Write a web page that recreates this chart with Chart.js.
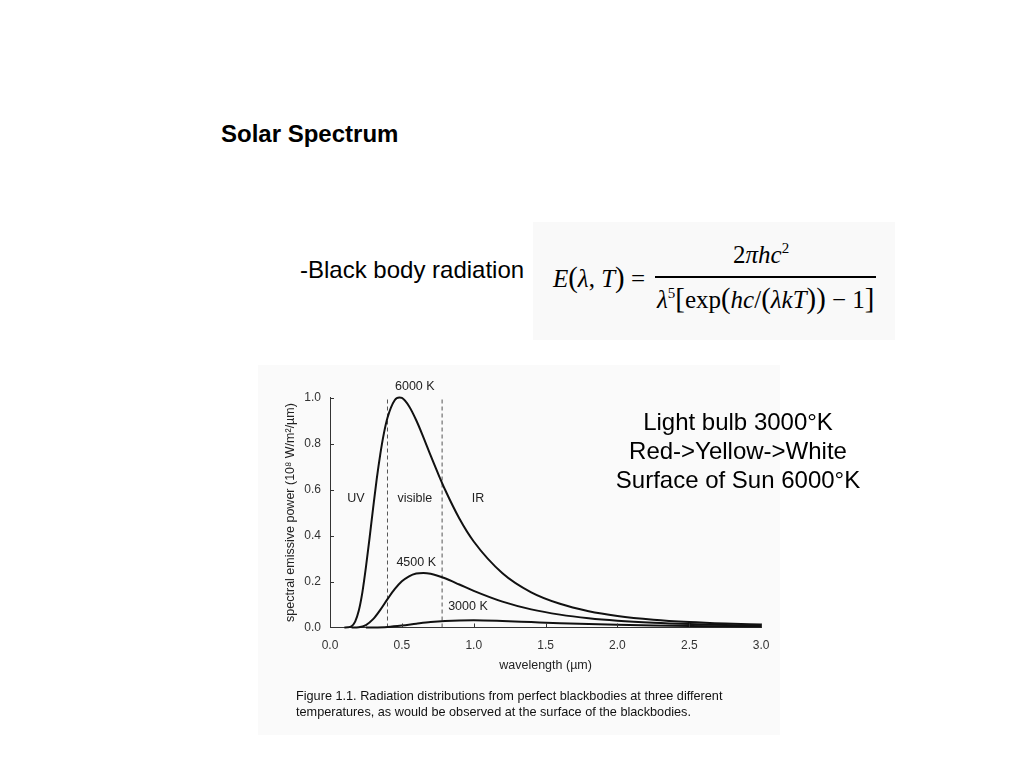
<!DOCTYPE html>
<html><head><meta charset="utf-8">
<script src="https://cdn.jsdelivr.net/npm/chart.js@4.4.1/dist/chart.umd.min.js"></script>
<style>
html,body{margin:0;padding:0;background:#fff;width:1024px;height:768px;overflow:hidden;font-family:"Liberation Sans",Arial,sans-serif;color:#000;}
.abs{position:absolute;white-space:nowrap;}
#title{left:221px;top:119px;font-size:24px;font-weight:bold;line-height:29px;}
#sub{left:300px;top:255px;font-size:24px;line-height:29px;}
#formulaBox{left:533px;top:222px;width:362px;height:118px;background:#f9f9f9;}
.f{font-family:"Liberation Serif","Times New Roman",serif;font-size:25px;line-height:25px;}
.f sup{font-size:0.6em;line-height:0;vertical-align:0.65em;}
#lhs{left:553px;top:265px;}
#num{left:733px;top:242px;}
#bar{left:655px;top:276px;width:221px;height:2px;background:#000;}
#den{left:657px;top:286px;}
.big{font-size:1.15em;}
#notes{left:598px;top:407px;width:280px;text-align:center;font-size:24px;line-height:29px;z-index:5;}
#fig{left:258px;top:365px;width:522px;height:370px;background:#fafafa;}
#chartWrap{left:258px;top:365px;width:522px;height:325px;}
#caption{left:296px;top:688px;font-size:12.7px;line-height:16px;color:#111;}
</style></head>
<body>
<div class="abs" id="title">Solar Spectrum</div>
<div class="abs" id="sub">-Black body radiation</div>
<div class="abs" id="formulaBox"></div>
<div class="abs f" id="lhs"><i>E</i><span class="big">(</span><i>λ</i>, <i>T</i><span class="big">)</span> =</div>
<div class="abs f" id="num">2<i>πhc</i><sup>2</sup></div>
<div class="abs" id="bar"></div>
<div class="abs f" id="den"><i>λ</i><sup>5</sup><span class="big">[</span>exp<span class="big">(</span><i>hc</i>/<span class="big">(</span><i>λkT</i><span class="big">))</span> − 1<span class="big">]</span></div>
<div class="abs" id="fig"></div>
<div class="abs" id="chartWrap"><canvas id="c" width="522" height="325" style="width:522px;height:325px"></canvas></div>
<div class="abs" id="caption">Figure 1.1. Radiation distributions from perfect blackbodies at three different<br>temperatures, as would be observed at the surface of the blackbodies.</div>
<div class="abs" id="notes">Light bulb 3000°K<br>Red-&gt;Yellow-&gt;White<br>Surface of Sun 6000°K</div>
<script>
// wavelength in µm, spectral emissive power in 10^8 W/m²/µm
const wavelength6000 = [0.1,0.125,0.15,0.175,0.2,0.225,0.25,0.275,0.3,0.325,0.35,0.375,0.4,0.45,0.483,0.5,0.55,0.6,0.65,0.7,0.75,0.8,0.9,1.0,1.2,1.4,1.6,1.8,2.0,2.25,2.5,2.75,3.0];
const power6000 = [0.0000,0.0006,0.0056,0.0256,0.0727,0.152,0.262,0.388,0.519,0.645,0.754,0.844,0.912,0.988,1.000,0.998,0.962,0.901,0.827,0.748,0.672,0.600,0.474,0.374,0.236,0.153,0.103,0.071,0.0505,0.0341,0.0238,0.0171,0.0126];

const wavelength4500 = [0.15,0.2,0.25,0.3,0.35,0.4,0.45,0.5,0.55,0.6,0.65,0.7,0.8,0.9,1.0,1.2,1.4,1.6,1.8,2.0,2.25,2.5,2.75,3.0];
const power4500 = [0.0000,0.0013,0.0107,0.0362,0.0768,0.1232,0.1665,0.2006,0.2228,0.2348,0.2375,0.2337,0.2139,0.187,0.1595,0.1126,0.0789,0.0560,0.0403,0.0296,0.0207,0.0148,0.0108,0.0081];

const wavelength3000 = [0.25,0.3,0.4,0.5,0.6,0.7,0.8,0.9,1.0,1.2,1.4,1.6,1.8,2.0,2.25,2.5,2.75,3.0];
const power3000 = [0.0000,0.0002,0.0023,0.0082,0.0162,0.0236,0.0285,0.0309,0.0312,0.0282,0.0234,0.0187,0.0148,0.0117,0.0087,0.0066,0.0050,0.0039];

const boundaryWavelengths = [0.4, 0.78];
const boundaryRange = [0, 1.0];

const annotationTexts = ['6000 K','UV','visible','IR','4500 K','3000 K'];
const annotationX = [0.59,0.18,0.59,1.03,0.60,0.96];
const annotationY = [1.047,0.56,0.56,0.56,0.281,0.089];

const xTickStep = 0.5;
const yTickStep = 0.2;

function pts(xs, ys){ return xs.map((w,i)=>({x:w, y:ys[i]})); }

const curveStyle = {borderColor:'#111', borderWidth:2, pointRadius:0, cubicInterpolationMode:'monotone', fill:false, clip:6};

const overlay = {
  id:'overlay',
  afterDatasetsDraw(chart){
    const {ctx, scales:{x, y}} = chart;
    ctx.save();
    ctx.strokeStyle = '#333'; ctx.lineWidth = 1;
    x.ticks.forEach(t=>{
      if (t.value === 0) return;
      const px = Math.round(x.getPixelForValue(t.value)) + 0.5;
      ctx.beginPath(); ctx.moveTo(px, y.bottom); ctx.lineTo(px, y.bottom - 4); ctx.stroke();
    });
    y.ticks.forEach(t=>{
      if (t.value === 0) return;
      const py = Math.round(y.getPixelForValue(t.value)) + 0.5;
      ctx.beginPath(); ctx.moveTo(x.left, py); ctx.lineTo(x.left + 4, py); ctx.stroke();
    });
    ctx.fillStyle = '#222';
    ctx.font = '12.5px "Liberation Sans", Arial, sans-serif';
    ctx.textAlign = 'center'; ctx.textBaseline = 'middle';
    annotationTexts.forEach((s,i)=>ctx.fillText(s, x.getPixelForValue(annotationX[i]), y.getPixelForValue(annotationY[i])));
    ctx.restore();
  }
};

const tickFont = {family:'"Liberation Sans", Arial, sans-serif', size:12};
const titleFont = {family:'"Liberation Sans", Arial, sans-serif', size:12.5};

new Chart(document.getElementById('c'), {
  type:'line',
  data:{datasets:[
    Object.assign({label:'6000 K', data:pts(wavelength6000, power6000)}, curveStyle),
    Object.assign({label:'4500 K', data:pts(wavelength4500, power4500)}, curveStyle),
    Object.assign({label:'3000 K', data:pts(wavelength3000, power3000)}, curveStyle),
    ...boundaryWavelengths.map(w=>({label:'boundary', data:[{x:w,y:boundaryRange[0]},{x:w,y:boundaryRange[1]}], borderColor:'#555', borderWidth:1, borderDash:[4,3], pointRadius:0, fill:false}))
  ]},
  options:{
    responsive:false, animation:false, devicePixelRatio:1,
    layout:{padding:{left:12, right:17.5, top:32.5, bottom:16.5}},
    plugins:{legend:{display:false}, tooltip:{enabled:false}},
    scales:{
      x:{type:'linear', min:0, max:3,
         afterFit(s){ s.height = 46; },
         ticks:{stepSize:xTickStep, padding:10.5, color:'#333', font:tickFont, maxRotation:0, callback:v=>Number(v).toFixed(1)},
         grid:{drawOnChartArea:false, drawTicks:false},
         border:{display:true, color:'#333', width:1},
         title:{display:true, text:'wavelength (µm)', color:'#222', font:titleFont, padding:{top:0, bottom:0}}},
      y:{type:'linear', min:0, max:1,
         afterFit(s){ s.width = 60; },
         ticks:{stepSize:yTickStep, padding:9, color:'#333', font:tickFont, callback:v=>Number(v).toFixed(1)},
         grid:{drawOnChartArea:false, drawTicks:false},
         border:{display:true, color:'#333', width:1},
         title:{display:true, text:'spectral emissive power (10⁸ W/m²/µm)', color:'#222', font:titleFont, padding:{top:13.5, bottom:0}}}
    }
  },
  plugins:[overlay]
});
</script>
</body></html>
